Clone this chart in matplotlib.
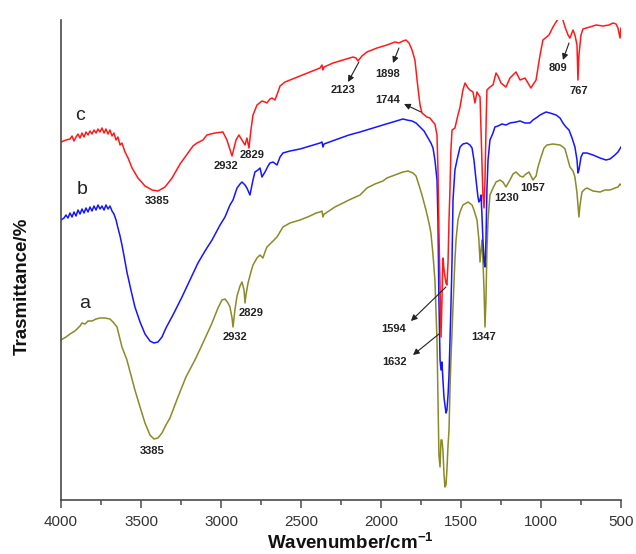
import matplotlib
matplotlib.use("Agg")
import matplotlib.pyplot as plt
from matplotlib.ticker import MultipleLocator

plt.rcParams['font.family'] = ['Liberation Sans', 'DejaVu Sans']
plt.rcParams['mathtext.fontset'] = 'custom'
plt.rcParams['mathtext.rm'] = 'Liberation Sans:bold'
plt.rcParams['mathtext.bf'] = 'Liberation Sans:bold'

# ---------------- data (wavenumber in cm-1, transmittance in arbitrary offset units) ----------------
c_wavenumber = [4000, 3969, 3944, 3931, 3919, 3906, 3894, 3881, 3869, 3856,
                3844, 3831, 3819, 3806, 3794, 3781, 3769, 3756, 3744, 3731,
                3719, 3706, 3694, 3681, 3669, 3656, 3644, 3631, 3619, 3600,
                3581, 3556, 3519, 3475, 3431, 3394, 3350, 3306, 3256, 3206,
                3175, 3150, 3113, 3088, 3038, 2988, 2963, 2931, 2906, 2888,
                2869, 2850, 2838, 2825, 2813, 2800, 2775, 2744, 2725, 2713,
                2694, 2681, 2663, 2644, 2631, 2600, 2569, 2506, 2444, 2381,
                2369, 2363, 2356, 2300, 2238, 2175, 2156, 2144, 2119, 2088,
                2025, 1963, 1913, 1888, 1863, 1844, 1825, 1806, 1788, 1769,
                1756, 1744, 1713, 1694, 1675, 1663, 1650, 1644, 1638, 1631,
                1625, 1619, 1613, 1606, 1594, 1588, 1581, 1575, 1569, 1563,
                1556, 1538, 1519, 1506, 1488, 1475, 1456, 1444, 1425, 1413,
                1400, 1381, 1375, 1369, 1363, 1356, 1350, 1344, 1338, 1319,
                1300, 1281, 1269, 1250, 1219, 1194, 1156, 1131, 1100, 1063,
                1031, 1006, 988, 950, 925, 906, 875, 863, 850, 831,
                819, 800, 788, 775, 769, 763, 750, 738, 694, 656,
                613, 575, 550, 531, 519, 506, 500]
c_transmittance = [358, 360, 361, 364, 359, 363, 366, 362, 367, 363,
                   368, 365, 369, 366, 370, 367, 371, 368, 372, 367,
                   371, 366, 370, 364, 367, 360, 363, 355, 357, 348,
                   342, 332, 322, 314, 310, 309, 313, 322, 336, 347,
                   354, 357, 360, 365, 367, 368, 360, 344, 360, 365,
                   360, 355, 362, 352, 370, 385, 395, 399, 398, 397,
                   401, 402, 400, 408, 414, 418, 420, 424, 428, 432,
                   435, 430, 433, 437, 440, 443, 442, 439, 444, 448,
                   452, 455, 458, 457, 459, 460, 457, 450, 440, 412,
                   395, 387, 383, 382, 378, 376, 365, 330, 270, 210,
                   163, 200, 242, 230, 217, 215, 238, 280, 310, 350,
                   370, 372, 385, 393, 410, 417, 412, 410, 408, 397,
                   408, 403, 370, 340, 305, 292, 320, 370, 410, 413,
                   415, 427, 424, 417, 413, 422, 428, 420, 422, 412,
                   420, 445, 460, 465, 473, 478, 485, 480, 473, 465,
                   462, 470, 465, 455, 420, 445, 465, 471, 473, 475,
                   474, 475, 477, 476, 472, 462, 472]

b_wavenumber = [4000, 3981, 3969, 3956, 3944, 3931, 3919, 3906, 3894, 3881,
                3869, 3856, 3844, 3831, 3819, 3806, 3794, 3781, 3769, 3756,
                3744, 3731, 3719, 3706, 3694, 3681, 3669, 3656, 3644, 3631,
                3619, 3606, 3588, 3563, 3538, 3506, 3475, 3444, 3419, 3394,
                3369, 3344, 3294, 3244, 3194, 3144, 3100, 3056, 3006, 2975,
                2944, 2925, 2900, 2881, 2869, 2850, 2838, 2819, 2800, 2788,
                2769, 2756, 2744, 2725, 2706, 2694, 2675, 2650, 2631, 2613,
                2569, 2506, 2444, 2381, 2369, 2363, 2356, 2288, 2200, 2131,
                2050, 1988, 1925, 1881, 1863, 1838, 1806, 1781, 1756, 1731,
                1706, 1688, 1675, 1663, 1650, 1644, 1638, 1631, 1625, 1619,
                1613, 1606, 1594, 1588, 1581, 1575, 1569, 1563, 1556, 1550,
                1538, 1525, 1506, 1488, 1463, 1444, 1431, 1419, 1406, 1394,
                1388, 1381, 1375, 1369, 1363, 1356, 1350, 1344, 1338, 1331,
                1319, 1300, 1288, 1269, 1244, 1219, 1194, 1156, 1131, 1100,
                1069, 1050, 1031, 1006, 969, 944, 906, 881, 863, 844,
                825, 806, 788, 775, 769, 763, 750, 738, 713, 675,
                631, 594, 569, 538, 519, 500]
b_transmittance = [280, 282, 285, 282, 287, 283, 288, 284, 290, 286,
                   291, 287, 292, 288, 293, 289, 294, 290, 295, 291,
                   294, 290, 295, 291, 294, 289, 286, 280, 272, 264,
                   255, 244, 228, 210, 193, 178, 166, 159, 157, 158,
                   163, 172, 187, 203, 220, 237, 249, 260, 275, 283,
                   295, 300, 312, 316, 318, 315, 312, 305, 320, 328,
                   330, 332, 323, 328, 334, 337, 338, 335, 343, 347,
                   349, 351, 354, 357, 358, 353, 356, 360, 365, 368,
                   372, 375, 378, 380, 381, 380, 379, 377, 373, 369,
                   362, 357, 352, 340, 320, 280, 200, 140, 130, 138,
                   120, 102, 87, 90, 105, 125, 160, 193, 240, 300,
                   330, 340, 353, 356, 357, 355, 352, 340, 320, 303,
                   298, 300, 305, 285, 260, 238, 233, 260, 310, 340,
                   360, 367, 373, 374, 376, 375, 377, 378, 379, 377,
                   377, 380, 382, 385, 388, 387, 385, 382, 377, 373,
                   370, 362, 353, 340, 327, 330, 343, 347, 347, 345,
                   342, 340, 341, 345, 348, 353]

a_wavenumber = [4000, 3969, 3944, 3913, 3881, 3869, 3850, 3831, 3806, 3781,
                3756, 3725, 3694, 3675, 3650, 3619, 3588, 3563, 3538, 3506,
                3475, 3444, 3419, 3394, 3369, 3344, 3319, 3269, 3219, 3163,
                3113, 3056, 3019, 2994, 2975, 2956, 2944, 2931, 2925, 2913,
                2900, 2881, 2869, 2856, 2850, 2844, 2831, 2813, 2800, 2775,
                2756, 2738, 2725, 2713, 2681, 2650, 2613, 2569, 2506, 2444,
                2406, 2381, 2369, 2363, 2356, 2344, 2288, 2200, 2131, 2088,
                2038, 1988, 1963, 1913, 1863, 1831, 1800, 1781, 1763, 1744,
                1719, 1700, 1688, 1675, 1663, 1650, 1644, 1638, 1631, 1625,
                1619, 1613, 1606, 1600, 1594, 1588, 1581, 1575, 1569, 1563,
                1556, 1550, 1538, 1531, 1519, 1506, 1488, 1456, 1431, 1419,
                1400, 1388, 1381, 1375, 1369, 1363, 1356, 1350, 1344, 1338,
                1331, 1319, 1300, 1281, 1256, 1238, 1219, 1194, 1175, 1156,
                1131, 1113, 1094, 1075, 1063, 1050, 1031, 1019, 1000, 981,
                963, 925, 881, 863, 850, 831, 819, 800, 788, 775,
                769, 763, 756, 744, 725, 713, 675, 631, 600, 569,
                538, 519, 506, 500]
a_transmittance = [160, 163, 166, 169, 174, 177, 176, 179, 179, 181,
                   182, 182, 181, 178, 173, 153, 140, 125, 110, 93,
                   77, 65, 61, 62, 67, 75, 82, 103, 123, 140,
                   157, 177, 192, 200, 201, 197, 193, 182, 173, 190,
                   204, 214, 218, 210, 197, 205, 217, 228, 235, 242,
                   245, 242, 248, 253, 258, 263, 273, 277, 280, 284,
                   287, 288, 289, 283, 286, 287, 293, 300, 305, 312,
                   316, 319, 322, 325, 328, 329, 327, 324, 315, 305,
                   290, 277, 267, 245, 220, 160, 100, 45, 33, 60,
                   60, 50, 25, 13, 15, 30, 55, 70, 110, 140,
                   170, 193, 240, 260, 280, 288, 295, 298, 295, 290,
                   280, 260, 238, 250, 260, 240, 210, 173, 200, 250,
                   280, 305, 312, 318, 320, 318, 313, 320, 326, 328,
                   324, 323, 326, 328, 324, 320, 324, 333, 343, 352,
                   355, 356, 355, 353, 351, 340, 333, 329, 323, 307,
                   295, 283, 295, 308, 311, 312, 309, 308, 310, 310,
                   312, 313, 316, 315]

x_ticks = [4000, 3500, 3000, 2500, 2000, 1500, 1000, 500]

# ---------------- figure ----------------
fig = plt.figure(figsize=(6.36, 5.54), dpi=100)
ax = fig.add_axes([61 / 636, 54 / 554, 560 / 636, 480 / 554])

ax.plot(a_wavenumber, a_transmittance, color='#8a8a28', lw=1.1)
ax.plot(b_wavenumber, b_transmittance, color='#1515ff', lw=1.1)
ax.plot(c_wavenumber, c_transmittance, color='#ff1a1a', lw=1.1)

ax.set_xlim(4000, 500)
ax.set_ylim(0, 480)
ax.set_xticks(x_ticks)
ax.set_xticklabels([str(t) for t in x_ticks])
ax.xaxis.set_minor_locator(MultipleLocator(250))
ax.set_yticks([])
for s in ['top', 'right']:
    ax.spines[s].set_visible(False)
for s in ['left', 'bottom']:
    ax.spines[s].set_color('#4a4a4a')
    ax.spines[s].set_linewidth(1.2)
ax.tick_params(axis='x', which='major', direction='out', length=6, width=1.1,
               color='#4a4a4a', labelsize=11, labelcolor='#333333', pad=4.5)
ax.tick_params(axis='x', which='minor', direction='out', length=3.5, width=1.1,
               color='#4a4a4a')

# series letters
for txt, (w, t) in {'c': (3881, 385), 'b': (3869, 310), 'a': (3850, 197)}.items():
    ax.text(w, t, txt, fontsize=14, color='#222222', ha='center', va='center')

# peak labels
peak_labels = [
    ('3385', 3400, 299), ('2932', 2969, 334), ('2829', 2806, 345),
    ('2123', 2238, 410), ('1898', 1956, 426), ('1744', 1956, 400),
    ('809', 894, 432), ('767', 763, 409), ('1230', 1213, 302),
    ('1057', 1050, 312), ('2829', 2813, 187), ('2932', 2913, 163),
    ('3385', 3431, 49), ('1594', 1919, 171), ('1632', 1913, 138),
    ('1347', 1356, 163),
]
for txt, w, t in peak_labels:
    ax.text(w, t, txt, fontsize=8, fontweight='bold', color='#222222',
            ha='center', va='center')

# arrows (tail at the band, head toward the label)
arrows = [
    ((2138, 438), (2206, 418)),
    ((1888, 452), (1925, 437)),
    ((1750, 388), (1856, 396)),
    ((825, 457), (863, 440)),
    ((1594, 213), (1813, 179)),
    ((1638, 166), (1800, 145)),
]
for tail, head in arrows:
    ax.annotate('', xy=head, xytext=tail,
                arrowprops=dict(arrowstyle='-|>', color='#222222', lw=0.8,
                                mutation_scale=9, shrinkA=0, shrinkB=0))

fig.text(350 / 636, 1 - 543 / 554, r'Wavenumber/cm$^{-1}$', fontsize=13.5,
         fontweight='bold', ha='center', va='center', color='#111111')
fig.text(22 / 636, 1 - 286 / 554, 'Trasmittance/%', fontsize=13.5,
         fontweight='bold', ha='center', va='center', rotation=90, color='#111111')

fig.savefig('out.png', dpi=100)
